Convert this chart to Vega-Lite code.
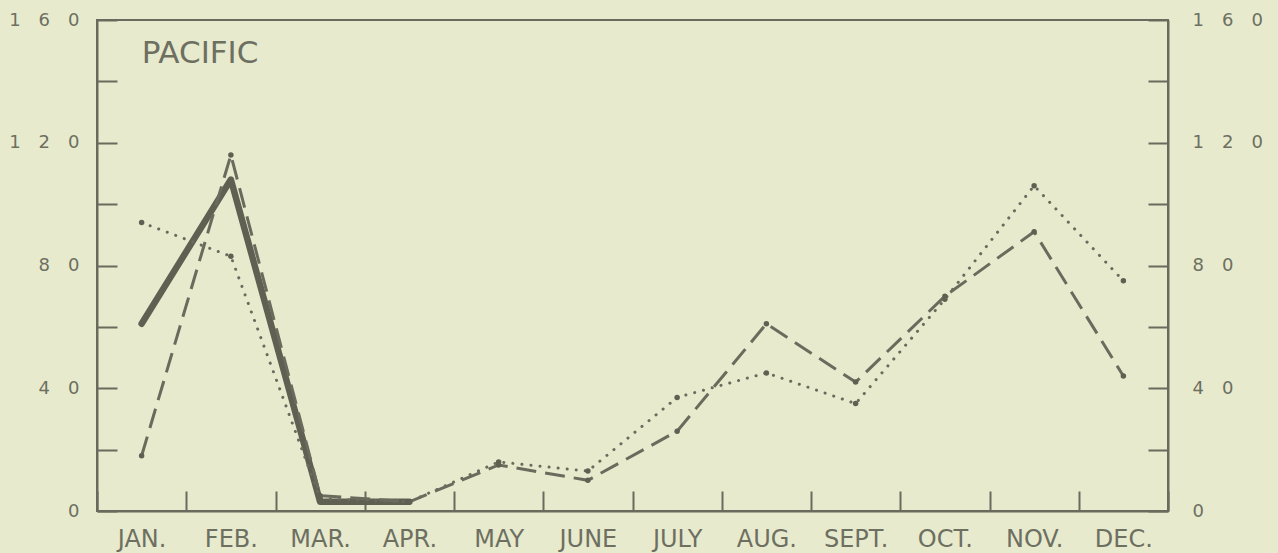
{
  "$schema": "https://vega.github.io/schema/vega-lite/v6.json",
  "width": 1071,
  "height": 491,
  "autosize": {"type": "none"},
  "padding": {"left": 97, "top": 20, "right": 110, "bottom": 42},
  "background": "#e7eacd",
  "config": {
    "view": {"stroke": "#6a6b5d", "strokeWidth": 2},
    "axis": {
      "domainColor": "#6a6b5d",
      "domainWidth": 2,
      "tickColor": "#6a6b5d",
      "tickWidth": 2,
      "labelColor": "#6d6f61",
      "labelFont": "DejaVu Sans",
      "grid": false,
      "title": null
    }
  },
  "data": {
    "values": [
      {"month": "JAN.", "series": "solid", "value": 61},
      {"month": "FEB.", "series": "solid", "value": 108},
      {"month": "MAR.", "series": "solid", "value": 3},
      {"month": "APR.", "series": "solid", "value": 3},
      {"month": "JAN.", "series": "dashed", "value": 18},
      {"month": "FEB.", "series": "dashed", "value": 116},
      {"month": "MAR.", "series": "dashed", "value": 5},
      {"month": "APR.", "series": "dashed", "value": 3},
      {"month": "MAY", "series": "dashed", "value": 15},
      {"month": "JUNE", "series": "dashed", "value": 10},
      {"month": "JULY", "series": "dashed", "value": 26},
      {"month": "AUG.", "series": "dashed", "value": 61},
      {"month": "SEPT.", "series": "dashed", "value": 42},
      {"month": "OCT.", "series": "dashed", "value": 70},
      {"month": "NOV.", "series": "dashed", "value": 91},
      {"month": "DEC.", "series": "dashed", "value": 44},
      {"month": "JAN.", "series": "dotted", "value": 94},
      {"month": "FEB.", "series": "dotted", "value": 83},
      {"month": "MAR.", "series": "dotted", "value": 4},
      {"month": "APR.", "series": "dotted", "value": 3},
      {"month": "MAY", "series": "dotted", "value": 16},
      {"month": "JUNE", "series": "dotted", "value": 13},
      {"month": "JULY", "series": "dotted", "value": 37},
      {"month": "AUG.", "series": "dotted", "value": 45},
      {"month": "SEPT.", "series": "dotted", "value": 35},
      {"month": "OCT.", "series": "dotted", "value": 69},
      {"month": "NOV.", "series": "dotted", "value": 106},
      {"month": "DEC.", "series": "dotted", "value": 75}
    ]
  },
  "encoding": {
    "x": {
      "field": "month",
      "type": "ordinal",
      "sort": ["JAN.", "FEB.", "MAR.", "APR.", "MAY", "JUNE", "JULY", "AUG.", "SEPT.", "OCT.", "NOV.", "DEC."],
      "scale": {"paddingInner": 0, "paddingOuter": 0},
      "axis": {
        "tickBand": "extent",
        "tickSize": -20,
        "labelPadding": 36,
        "labelFontSize": 24,
        "labelAngle": 0,
        "labelBaseline": "top"
      }
    }
  },
  "resolve": {"axis": {"y": "independent"}},
  "layer": [
    {
      "transform": [{"filter": "datum.series == 'solid'"}],
      "mark": {"type": "line", "color": "#5f6052", "strokeWidth": 6.5, "strokeCap": "round", "strokeJoin": "round"},
      "encoding": {
        "y": {
          "field": "value", "type": "quantitative",
          "scale": {"domain": [0, 160], "nice": false, "zero": true},
          "axis": {
            "orient": "left",
            "values": [0, 20, 40, 60, 80, 100, 120, 140, 160],
            "tickSize": -20,
            "labelPadding": 38,
            "labelFontSize": 18,
            "labelExpr": "datum.value == 160 ? '1\u20036\u20030' : datum.value == 120 ? '1\u20032\u20030' : datum.value == 80 ? '8\u20030' : datum.value == 40 ? '4\u20030' : datum.value == 0 ? '0' : ''"
          }
        }
      }
    },
    {
      "transform": [{"filter": "datum.series == 'dashed'"}],
      "mark": {"type": "line", "color": "#6a6b5d", "strokeWidth": 3, "strokeDash": [20, 9]},
      "encoding": {
        "y": {
          "field": "value", "type": "quantitative",
          "axis": {
            "orient": "right",
            "values": [0, 20, 40, 60, 80, 100, 120, 140, 160],
            "tickSize": -20,
            "labelPadding": 44,
            "labelFontSize": 18,
            "labelExpr": "datum.value == 160 ? '1\u20036\u20030' : datum.value == 120 ? '1\u20032\u20030' : datum.value == 80 ? '8\u20030' : datum.value == 40 ? '4\u20030' : datum.value == 0 ? '0' : ''"
          }
        }
      }
    },
    {
      "transform": [{"filter": "datum.series == 'dotted'"}],
      "mark": {"type": "line", "color": "#6a6b5d", "strokeWidth": 3, "strokeDash": [0.1, 9], "strokeCap": "round"},
      "encoding": {
        "y": {"field": "value", "type": "quantitative", "axis": null}
      }
    },
    {
      "transform": [{"filter": "datum.series != 'solid'"}],
      "mark": {"type": "point", "filled": true, "color": "#5f6052", "size": 30, "opacity": 1},
      "encoding": {
        "y": {"field": "value", "type": "quantitative", "axis": null}
      }
    },
    {
      "data": {"values": [{"label": "PACIFIC"}]},
      "mark": {"type": "text", "align": "left", "baseline": "middle", "font": "DejaVu Sans", "fontSize": 31, "color": "#6d6f61"},
      "encoding": {
        "x": {"datum": "JAN."},
        "y": {"datum": 149, "type": "quantitative", "axis": null},
        "text": {"field": "label"}
      }
    }
  ]
}
